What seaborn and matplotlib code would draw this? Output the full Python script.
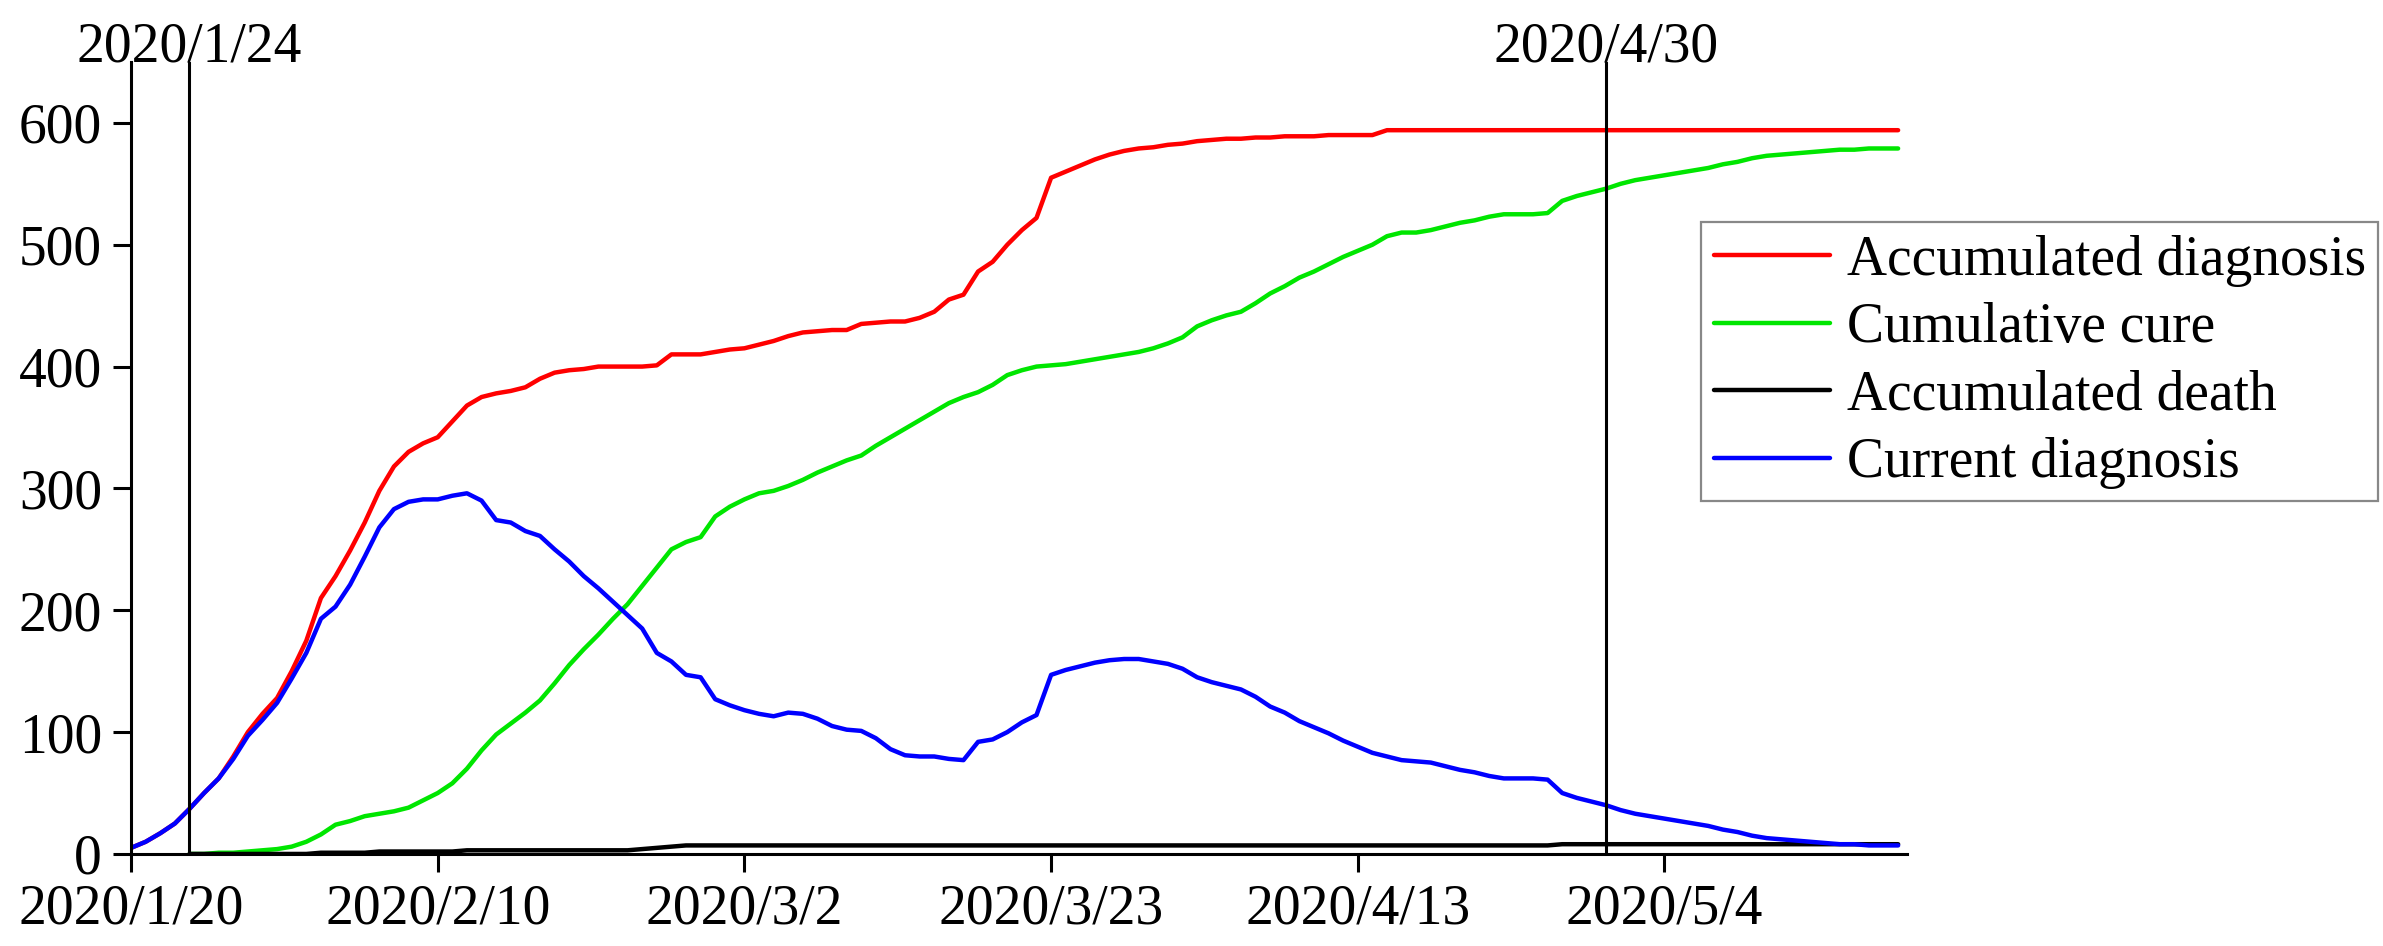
import numpy as np
import pandas as pd
import seaborn as sns
import matplotlib
matplotlib.use("Agg")
from matplotlib import pyplot as plt

nan = np.nan

# daily values from 2020/1/20 to 2020/5/20
red = [5, 10, 17, 25, 37, 50, 62, 80, 100, 115,
       128, 150, 175, 210, 228, 249, 272, 298, 318, 330,
       337, 342, 355, 368, 375, 378, 380, 383, 390, 395,
       397, 398, 400, 400, 400, 400, 401, 410, 410, 410,
       412, 414, 415, 418, 421, 425, 428, 429, 430, 430,
       435, 436, 437, 437, 440, 445, 455, 459, 478, 486,
       500, 512, 522, 555, 560, 565, 570, 574, 577, 579,
       580, 582, 583, 585, 586, 587, 587, 588, 588, 589,
       589, 589, 590, 590, 590, 590, 594, 594, 594, 594] + [594] * 32

green = [nan] * 4 + [0, 0, 1, 1, 2, 3,
       4, 6, 10, 16, 24, 27, 31, 33, 35, 38,
       44, 50, 58, 70, 85, 98, 107, 116, 126, 140,
       155, 168, 180, 193, 205, 220, 235, 250, 256, 260,
       277, 285, 291, 296, 298, 302, 307, 313, 318, 323,
       327, 335, 342, 349, 356, 363, 370, 375, 379, 385,
       393, 397, 400, 401, 402, 404, 406, 408, 410, 412,
       415, 419, 424, 433, 438, 442, 445, 452, 460, 466,
       473, 478, 484, 490, 495, 500, 507, 510, 510, 512,
       515, 518, 520, 523, 525, 525, 525, 526, 536, 540,
       543, 546, 550, 553, 555, 557, 559, 561, 563, 566,
       568, 571, 573, 574, 575, 576, 577, 578, 578, 579,
       579, 579]

death = [nan] * 4 + [0, 0, 0, 0, 0, 0,
       0, 0, 0, 1, 1, 1, 1, 2, 2, 2,
       2, 2, 2, 3, 3, 3, 3, 3, 3, 3,
       3, 3, 3, 3, 3, 4, 5, 6, 7, 7] + [7] * 58 + [8] * 24

blue = [5, 10, 17, 25, 37, 50, 62, 78, 97, 110,
        124, 144, 165, 193, 203, 221, 244, 268, 283, 289,
        291, 291, 294, 296, 290, 274, 272, 265, 261, 250,
        240, 228, 218, 207, 196, 185, 165, 158, 147, 145,
        127, 122, 118, 115, 113, 116, 115, 111, 105, 102,
        101, 95, 86, 81, 80, 80, 78, 77, 92, 94,
        100, 108, 114, 147, 151, 154, 157, 159, 160, 160,
        158, 156, 152, 145, 141, 138, 135, 129, 121, 116,
        109, 104, 99, 93, 88, 83, 80, 77, 76, 75,
        72, 69, 67, 64, 62, 62, 62, 61, 50, 46,
        43, 40, 36, 33, 31, 29, 27, 25, 23, 20,
        18, 15, 13, 12, 11, 10, 9, 8, 8, 7,
        7, 7]

series_names = ["Accumulated diagnosis", "Cumulative cure", "Accumulated death", "Current diagnosis"]
colors = ["#ff0000", "#00e600", "#000000", "#0000ff"]
tick_dates = ["2020-01-20", "2020-02-10", "2020-03-02", "2020-03-23", "2020-04-13", "2020-05-04"]
tick_labels = ["2020/1/20", "2020/2/10", "2020/3/2", "2020/3/23", "2020/4/13", "2020/5/4"]
mark_dates = ["2020-01-24", "2020-04-30"]
mark_labels = ["2020/1/24", "2020/4/30"]

dates = pd.date_range("2020-01-20", periods=len(red), freq="D")
df = pd.DataFrame({"date": dates, series_names[0]: red, series_names[1]: green,
                   series_names[2]: death, series_names[3]: blue})
df = df.melt(id_vars="date", var_name="series", value_name="count").dropna()

sns.set_style("ticks", {"axes.edgecolor": "black", "xtick.color": "black", "ytick.color": "black",
                        "text.color": "black", "axes.labelcolor": "black"})
plt.rcParams["font.family"] = ["Liberation Serif", "DejaVu Serif"]

fig = plt.figure(figsize=(23.83, 9.46), dpi=100)
ax = fig.add_axes([0.055, 0.0973, 0.7452, 0.8372])

sns.lineplot(data=df, x="date", y="count", hue="series", hue_order=series_names,
             palette=dict(zip(series_names, colors)), linewidth=3.2, errorbar=None, ax=ax)

start = pd.Timestamp("2020-01-20")
ax.set_xlim(start, start + pd.Timedelta(days=121.6))
ax.set_ylim(0, 650)
ax.set_xticks(pd.to_datetime(tick_dates))
ax.set_xticklabels(tick_labels)
ax.set_yticks(range(0, 601, 100))
ax.tick_params(direction="out", length=13, width=2.2, labelsize=40, pad=8)
ax.set_xlabel("")
ax.set_ylabel("")
sns.despine(ax=ax)
for s in ["left", "bottom"]:
    ax.spines[s].set_linewidth(2.2)

for d, lab in zip(mark_dates, mark_labels):
    ax.axvline(pd.Timestamp(d), color="black", lw=2.2)
    ax.text(pd.Timestamp(d), 650, lab, ha="center", va="baseline", fontsize=40, clip_on=False)

handles, labels = ax.get_legend_handles_labels()
leg = ax.legend(handles, labels, loc="upper left", bbox_to_anchor=(0.714, 0.765),
                bbox_transform=fig.transFigure, fontsize=40, frameon=True, fancybox=False,
                edgecolor="#888888", framealpha=1, handlelength=2.1, handletextpad=0.3,
                borderpad=0.22, labelspacing=0.28, borderaxespad=0)
leg.get_frame().set_linewidth(1.6)

fig.savefig("out.png", dpi=100)
